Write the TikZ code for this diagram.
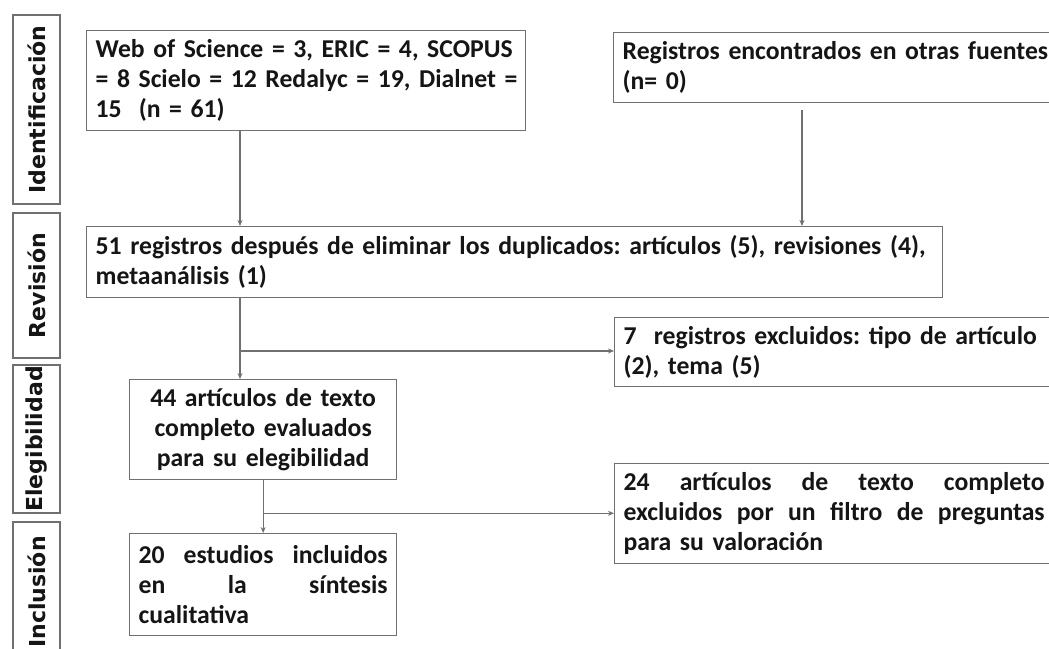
\documentclass[tikz,border=0pt]{standalone}
\usepackage{fontspec}
\setmainfont{Carlito}
\newfontfamily\labfont{DejaVu Sans}
\usetikzlibrary{arrows.meta}
\definecolor{ln}{HTML}{707070}
\definecolor{txt}{HTML}{151515}
\frenchspacing
\newcommand{\jline}[2]{\leavevmode\hbox to #1{#2}}
\begin{document}
\begin{tikzpicture}[x=1pt,y=-1pt,
  box/.style={draw=ln, line width=1.3pt, anchor=north west, inner xsep=9pt, inner ysep=0pt,
    font=\bfseries\fontsize{25.7}{30}\selectfont\frenchspacing, text=txt, align=left},
  lab/.style={draw=ln, line width=1.3pt, rotate=90, inner sep=0pt,
    font=\labfont\bfseries\fontsize{22}{22}\selectfont, text=txt},
  arr/.style={draw=ln, line width=1.1pt, -{Stealth[length=6pt,width=5pt]}}]
\useasboundingbox (0,0) rectangle (1049,648);
\fill[white] (0,0) rectangle (1049,648);
\clip (0,0) rectangle (1049,648);
% stage labels
\node[lab, minimum width=189pt, minimum height=47pt] (l1) at (36.5,109.5) {Identificación};
\node[lab, minimum width=145pt, minimum height=47pt] (l2) at (36.5,285.5) {Revisión};
\node[lab, minimum width=148pt, minimum height=47pt] (l3) at (36.5,439) {Elegibilidad};
\node[lab, minimum width=140pt, minimum height=47pt] (l4) at (36.5,592) {Inclusión};
% boxes
\node[box, minimum width=439pt, minimum height=100pt, text width=421pt] (a) at (86,30)
  {\jline{421pt}{Web of Science = 3, ERIC = 4, SCOPUS\hfil}\\\jline{421pt}{= 8 Scielo = 12 Redalyc = 19, Dialnet =}\\15\ \ (n = 61)};
\node[box, minimum width=600pt, minimum height=70pt, text width=582pt] (b) at (613,32)
  {Registros encontrados en otras fuentes\\(n= 0)};
\node[box, minimum width=856pt, minimum height=71pt, text width=838pt] (c) at (86,226)
  {51 registros después de eliminar los duplicados: artículos (5), revisiones (4),\\metaanálisis (1)};
\node[box, minimum width=600pt, minimum height=69pt, text width=582pt] (d) at (614,317)
  {7\ \ registros excluidos: tipo de artículo\\(2), tema (5)};
\node[box, minimum width=267pt, minimum height=100pt, text width=249pt, align=center] (e) at (129,379)
  {44 artículos de texto\\completo evaluados\\para su elegibilidad};
\node[box, minimum width=267pt, minimum height=102pt, text width=249pt] (f) at (129,533)
  {\jline{249pt}{20\hfil estudios\hfil incluidos}\\\jline{249pt}{en\hfil la\hfil síntesis}\\cualitativa};
\node[box, minimum width=600pt, minimum height=100pt, text width=582pt] (g) at (614,463)
  {\jline{421pt}{24\hfil artículos\hfil de\hfil texto\hfil completo}\\\jline{421pt}{excluidos\hfil por\hfil un\hfil filtro\hfil de\hfil preguntas}\\para su valoración};
% connectors
\coordinate (x1) at (240,0);
\coordinate (x2) at (802,110);
\draw[arr] (x1 |- a.south) -- (x1 |- c.north);
\draw[arr] (x2) -- (x2 |- c.north);
\draw[arr] (x1 |- c.south) -- (x1 |- e.north);
\coordinate (j1) at (240,351);
\draw[arr] (j1) -- (j1 -| d.west);
\draw[arr] (e.south) -- (f.north);
\path (e.south) ++(0,33) coordinate (j2);
\draw[arr] (j2) -- (j2 -| g.west);
\end{tikzpicture}
\end{document}
